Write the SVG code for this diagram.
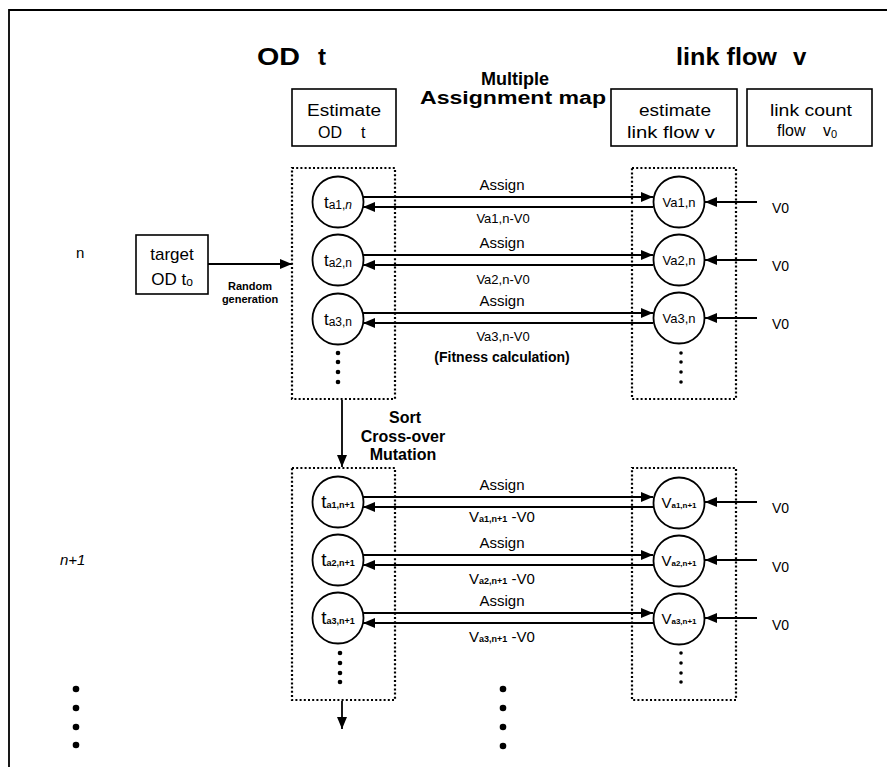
<svg xmlns="http://www.w3.org/2000/svg" width="887" height="767" viewBox="0 0 887 767">
  <style>
    text { font-family: "Liberation Sans", Arial, sans-serif; fill: #000; }
    .hd { font-size: 24px; font-weight: bold; }
    .sub { font-size: 18px; font-weight: bold; }
    .box { fill: #fff; stroke: #000; stroke-width: 1.6; }
    .lbl { font-size: 16px; }
    .dot { fill: none; stroke: #000; stroke-width: 2.2; stroke-dasharray: 2 2.2; }
    .node { fill: #fff; stroke: #000; stroke-width: 1.8; }
    .ln { stroke: #000; stroke-width: 1.8; fill: none; }
    .mid { font-size: 15px; text-anchor: middle; }
    .vm { font-size: 13px; text-anchor: middle; }
    .bd { font-weight: bold; }
    .v0 { font-size: 14px; }
  </style>
  <defs>
    <marker id="ah" viewBox="0 0 12 10" refX="12" refY="5" markerWidth="12" markerHeight="10" markerUnits="userSpaceOnUse" orient="auto">
      <path d="M0,0 L12,5 L0,10 Z" fill="#000"/>
    </marker>
  </defs>

  <!-- frame -->
  <path d="M9,767 V10 H887" class="ln" stroke-width="2"/>

  <!-- column headings -->
  <g id="heading-od">
    <text class="hd" x="257" y="65" textLength="43" lengthAdjust="spacingAndGlyphs">OD</text>
    <text class="hd" x="318" y="65">t</text>
  </g>
  <g id="heading-flow">
    <text class="hd" x="676" y="65" textLength="101" lengthAdjust="spacingAndGlyphs">link flow</text>
    <text class="hd" x="793" y="65">v</text>
  </g>
  <g id="heading-map">
    <text class="sub" x="515" y="85" text-anchor="middle">Multiple</text>
    <text class="sub" x="420" y="104" textLength="186" lengthAdjust="spacingAndGlyphs">Assignment map</text>
  </g>

  <!-- header boxes -->
  <g id="box-estimate-od">
    <rect class="box" x="292" y="89" width="104" height="57"/>
    <text class="lbl" x="344" y="116" text-anchor="middle" textLength="74" lengthAdjust="spacingAndGlyphs">Estimate</text>
    <text class="lbl" x="318" y="138">OD</text>
    <text class="lbl" x="361" y="138">t</text>
  </g>
  <g id="box-estimate-flow">
    <rect class="box" x="611" y="89" width="126" height="57"/>
    <text class="lbl" x="675" y="116" text-anchor="middle" textLength="72" lengthAdjust="spacingAndGlyphs">estimate</text>
    <text class="lbl" x="671" y="138" text-anchor="middle" textLength="88" lengthAdjust="spacingAndGlyphs">link flow v</text>
  </g>
  <g id="box-link-count">
    <rect class="box" x="747" y="89" width="125" height="57"/>
    <text class="lbl" x="811" y="116" text-anchor="middle" textLength="82" lengthAdjust="spacingAndGlyphs">link count</text>
    <text class="lbl" x="777" y="136">flow</text>
    <text class="lbl" x="823" y="136">v<tspan font-size="11" dy="2">0</tspan></text>
  </g>

  <!-- target OD -->
  <g id="target-od">
    <rect class="box" x="136" y="235" width="72" height="59"/>
    <text x="172" y="260" font-size="17" text-anchor="middle">target</text>
    <text x="172" y="285" font-size="17" text-anchor="middle">OD t<tspan font-size="12" dy="1">o</tspan></text>
  </g>

  <!-- generation labels -->
  <text x="76" y="258" font-size="15">n</text>
  <text x="60" y="565" font-size="15" font-style="italic">n+1</text>
  <g class="bd" font-size="11" text-anchor="middle">
    <text x="250" y="290">Random</text>
    <text x="250" y="303">generation</text>
  </g>
  <g class="bd" font-size="16" text-anchor="middle">
    <text x="405" y="423">Sort</text>
    <text x="403" y="442">Cross-over</text>
    <text x="403" y="460">Mutation</text>
  </g>
  <text x="502" y="362" font-size="14" class="bd" text-anchor="middle">(Fitness calculation)</text>

  <!-- population containers -->
  <g id="pop-od-n"><rect class="dot" x="292" y="168" width="103" height="231"/></g>
  <g id="pop-flow-n"><rect class="dot" x="632" y="168" width="104" height="231"/></g>
  <g id="pop-od-n1"><rect class="dot" x="292" y="468" width="103" height="232"/></g>
  <g id="pop-flow-n1"><rect class="dot" x="632" y="468" width="104" height="232"/></g>

  <!-- connectors -->
  <g id="connectors" class="ln" marker-end="url(#ah)">
    <line x1="208" y1="264" x2="292" y2="264"/>
    <line x1="342" y1="400" x2="342" y2="467"/>
    <line x1="342" y1="701" x2="342" y2="729"/>

    <line x1="363" y1="197" x2="653" y2="197"/>
    <line x1="653" y1="207" x2="363" y2="207"/>
    <line x1="757" y1="202" x2="705" y2="202"/>
    <line x1="363" y1="255" x2="653" y2="255"/>
    <line x1="653" y1="265" x2="363" y2="265"/>
    <line x1="757" y1="260" x2="705" y2="260"/>
    <line x1="363" y1="313" x2="653" y2="313"/>
    <line x1="653" y1="323" x2="363" y2="323"/>
    <line x1="757" y1="318" x2="705" y2="318"/>

    <line x1="363" y1="497" x2="653" y2="497"/>
    <line x1="653" y1="507" x2="363" y2="507"/>
    <line x1="757" y1="502" x2="705" y2="502"/>
    <line x1="363" y1="555" x2="653" y2="555"/>
    <line x1="653" y1="565" x2="363" y2="565"/>
    <line x1="757" y1="560" x2="705" y2="560"/>
    <line x1="363" y1="613" x2="653" y2="613"/>
    <line x1="653" y1="623" x2="363" y2="623"/>
    <line x1="757" y1="618" x2="705" y2="618"/>
  </g>

  <!-- connector labels -->
  <g class="mid">
    <text x="502" y="190">Assign</text>
    <text x="502" y="248">Assign</text>
    <text x="502" y="306">Assign</text>
    <text x="502" y="490">Assign</text>
    <text x="502" y="548">Assign</text>
    <text x="502" y="606">Assign</text>
  </g>
  <g class="vm">
    <text x="503" y="223">Va1,n-V0</text>
    <text x="503" y="284">Va2,n-V0</text>
    <text x="503" y="341">Va3,n-V0</text>
  </g>
  <g class="mid">
    <text x="502" y="522">V<tspan font-size="9" class="bd">a1,n+1</tspan> -V0</text>
    <text x="502" y="584">V<tspan font-size="9" class="bd">a2,n+1</tspan> -V0</text>
    <text x="502" y="642">V<tspan font-size="9" class="bd">a3,n+1</tspan> -V0</text>
  </g>
  <g class="v0">
    <text x="772" y="213">V0</text>
    <text x="772" y="271">V0</text>
    <text x="772" y="329">V0</text>
    <text x="772" y="513">V0</text>
    <text x="772" y="572">V0</text>
    <text x="772" y="630">V0</text>
  </g>

  <!-- OD nodes, generation n -->
  <g id="t-a1-n"><circle class="node" cx="338" cy="202" r="25.5"/><text x="338" y="208" font-size="17" text-anchor="middle">t<tspan font-size="12" dy="1">a1,<tspan font-style="italic">n</tspan></tspan></text></g>
  <g id="t-a2-n"><circle class="node" cx="338" cy="260" r="25.5"/><text x="338" y="266" font-size="17" text-anchor="middle">t<tspan font-size="12" dy="1">a2,n</tspan></text></g>
  <g id="t-a3-n"><circle class="node" cx="338" cy="319" r="25.5"/><text x="338" y="325" font-size="17" text-anchor="middle">t<tspan font-size="12" dy="1">a3,n</tspan></text></g>

  <!-- flow nodes, generation n -->
  <g id="v-a1-n"><circle class="node" cx="679" cy="202" r="25.5"/><text x="679" y="207" font-size="13" text-anchor="middle">Va1,n</text></g>
  <g id="v-a2-n"><circle class="node" cx="679" cy="260" r="25.5"/><text x="679" y="265" font-size="13" text-anchor="middle">Va2,n</text></g>
  <g id="v-a3-n"><circle class="node" cx="679" cy="318" r="25.5"/><text x="679" y="323" font-size="13" text-anchor="middle">Va3,n</text></g>

  <!-- OD nodes, generation n+1 -->
  <g id="t-a1-n1"><circle class="node" cx="338" cy="502" r="25.5"/><text x="338" y="508" font-size="19" text-anchor="middle">t<tspan font-size="9" class="bd">a1,n+1</tspan></text></g>
  <g id="t-a2-n1"><circle class="node" cx="338" cy="560" r="25.5"/><text x="338" y="566" font-size="19" text-anchor="middle">t<tspan font-size="9" class="bd">a2,n+1</tspan></text></g>
  <g id="t-a3-n1"><circle class="node" cx="338" cy="618" r="25.5"/><text x="338" y="624" font-size="19" text-anchor="middle">t<tspan font-size="9" class="bd">a3,n+1</tspan></text></g>

  <!-- flow nodes, generation n+1 -->
  <g id="v-a1-n1"><circle class="node" cx="679" cy="503" r="25.5"/><text x="679" y="508" font-size="15" text-anchor="middle">V<tspan font-size="8" class="bd">a1,n+1</tspan></text></g>
  <g id="v-a2-n1"><circle class="node" cx="679" cy="561" r="25.5"/><text x="679" y="566" font-size="15" text-anchor="middle">V<tspan font-size="8" class="bd">a2,n+1</tspan></text></g>
  <g id="v-a3-n1"><circle class="node" cx="679" cy="619" r="25.5"/><text x="679" y="624" font-size="15" text-anchor="middle">V<tspan font-size="8" class="bd">a3,n+1</tspan></text></g>

  <!-- ellipsis dots -->
  <g fill="#000">
    <circle cx="338" cy="353" r="2.3"/><circle cx="338" cy="362" r="2.3"/><circle cx="338" cy="372" r="2.3"/><circle cx="338" cy="382" r="2.3"/>
    <circle cx="681" cy="353" r="1.8"/><circle cx="681" cy="362" r="1.8"/><circle cx="681" cy="372" r="1.8"/><circle cx="681" cy="382" r="1.8"/>
    <circle cx="340" cy="653" r="2.3"/><circle cx="340" cy="663" r="2.3"/><circle cx="340" cy="673" r="2.3"/><circle cx="340" cy="682" r="2.3"/>
    <circle cx="681" cy="653" r="1.8"/><circle cx="681" cy="663" r="1.8"/><circle cx="681" cy="673" r="1.8"/><circle cx="681" cy="682" r="1.8"/>
    <circle cx="503" cy="689" r="3.3"/><circle cx="503" cy="708" r="3.3"/><circle cx="503" cy="727" r="3.3"/><circle cx="503" cy="746" r="3.3"/>
    <circle cx="76" cy="689" r="3.3"/><circle cx="76" cy="708" r="3.3"/><circle cx="76" cy="727" r="3.3"/><circle cx="76" cy="745" r="3.3"/>
  </g>
</svg>
